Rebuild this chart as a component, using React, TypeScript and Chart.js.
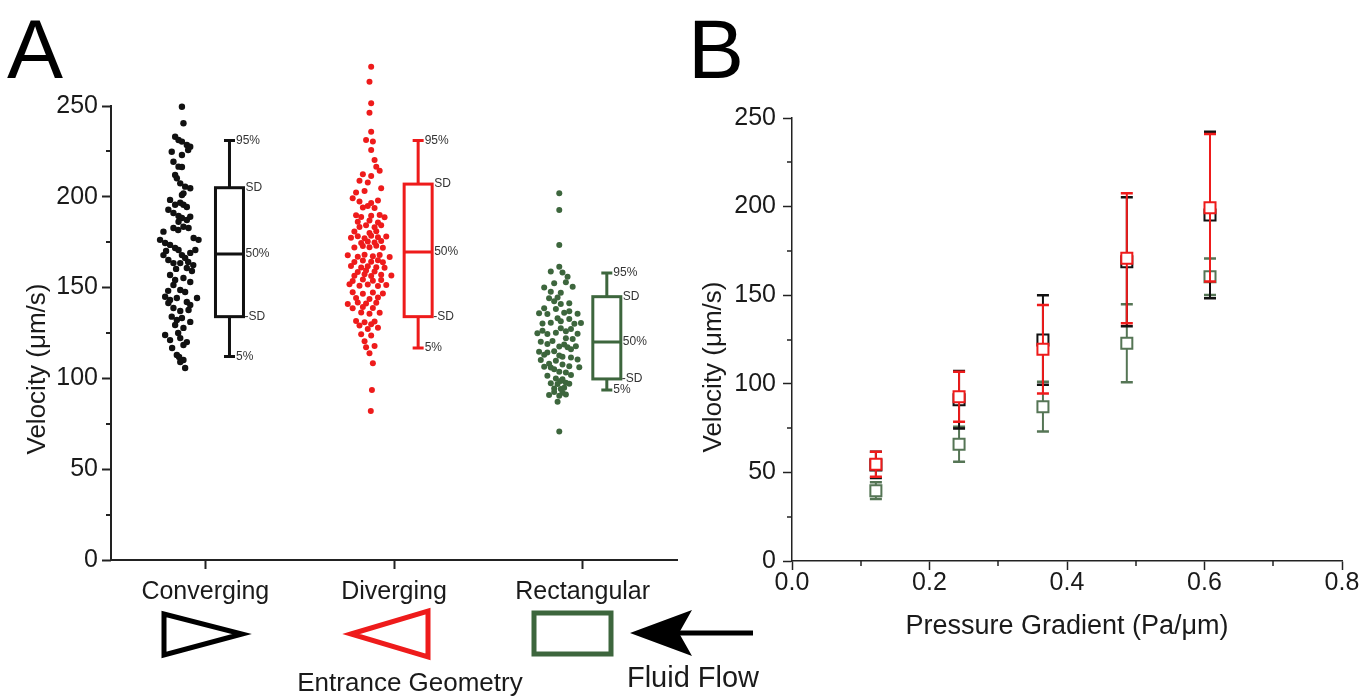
import React, { useEffect, useRef } from "react";
import { Chart, registerables } from "chart.js";

Chart.register(...registerables);

// ---------------- DATA ----------------
const CATEGORIES = ["Converging", "Diverging", "Rectangular"];
const BOX_LABELS = ["95%", "SD", "50%", "-SD", "5%"];

// box statistics per category (Converging, Diverging, Rectangular)
const BOX_P95 = [231, 231, 158];
const BOX_PSD = [205, 207, 145];
const BOX_MED = [168.5, 169.6, 120];
const BOX_MSD = [134, 134, 99.7];
const BOX_P5 = [112, 116.7, 93.6];

// individual velocities [category position (jittered), velocity µm/s]
const CONVERGING_POINTS: [number, number][] = [
  [0.876, 249.6], [0.884, 240.5], [0.84, 233.1], [0.858, 231.3], [0.876, 230.4], [0.902, 228.5],
  [0.92, 227.6], [0.909, 225.8], [0.822, 224.8], [0.876, 223.0], [0.831, 219.3], [0.858, 216.6],
  [0.876, 216.4], [0.84, 212.0], [0.849, 210.2], [0.867, 207.4], [0.893, 205.6], [0.92, 204.7],
  [0.884, 201.9], [0.876, 201.0], [0.813, 198.3], [0.84, 195.6], [0.867, 196.7], [0.884, 195.6],
  [0.902, 194.4], [0.804, 192.9], [0.831, 191.1], [0.858, 189.4], [0.876, 188.3], [0.902, 187.2],
  [0.92, 189.0], [0.858, 186.3], [0.884, 183.5], [0.911, 182.8], [0.778, 180.8], [0.831, 182.8],
  [0.76, 176.3], [0.938, 177.3], [0.964, 176.3], [0.787, 174.6], [0.813, 173.5], [0.84, 171.8],
  [0.858, 170.7], [0.876, 167.9], [0.893, 166.3], [0.92, 169.1], [0.947, 170.7], [0.778, 167.9],
  [0.804, 165.2], [0.831, 163.5], [0.867, 163.5], [0.902, 160.8], [0.929, 159.1], [0.813, 156.9],
  [0.84, 154.2], [0.884, 155.3], [0.92, 153.1], [0.831, 151.4], [0.867, 148.7], [0.893, 147.6],
  [0.787, 145.0], [0.813, 143.2], [0.849, 144.3], [0.902, 142.1], [0.956, 144.3], [0.804, 141.5],
  [0.831, 138.8], [0.867, 137.1], [0.911, 137.7], [0.822, 134.0], [0.849, 132.2], [0.876, 133.3],
  [0.92, 131.1], [0.84, 129.4], [0.884, 127.8], [0.787, 123.9], [0.813, 121.1], [0.867, 122.2],
  [0.902, 120.0], [0.884, 118.4], [0.849, 112.9], [0.867, 109.0], [0.884, 110.1], [0.893, 105.7],
  [0.792, 170.2], [0.909, 164.1], [0.845, 160.3], [0.936, 162.4], [0.856, 181.7], [0.803, 148.2],
  [0.92, 140.4], [0.856, 125.0], [0.824, 116.7], [0.861, 111.8],
];

const DIVERGING_POINTS: [number, number][] = [
  [1.879, 271.6], [1.87, 263.4], [1.879, 251.5], [1.87, 246.3], [1.879, 235.8], [1.852, 231.3],
  [1.888, 230.5], [1.879, 225.8], [1.897, 220.3], [1.906, 216.6], [1.924, 214.3], [1.835, 212.4],
  [1.879, 211.5], [1.817, 208.8], [1.861, 207.9], [1.932, 204.7], [1.844, 203.2], [1.799, 202.3],
  [1.781, 199.2], [1.817, 197.4], [1.879, 196.6], [1.915, 197.9], [1.835, 194.1], [1.861, 194.9],
  [1.897, 193.8], [1.799, 189.9], [1.826, 188.9], [1.879, 189.6], [1.924, 190.0], [1.95, 188.7],
  [1.808, 186.3], [1.87, 186.9], [1.915, 185.8], [1.817, 183.4], [1.852, 184.3], [1.897, 183.2],
  [1.932, 184.4], [1.79, 180.9], [1.87, 180.1], [1.906, 181.0], [1.772, 177.5], [1.808, 178.3],
  [1.844, 177.2], [1.879, 178.6], [1.915, 177.7], [1.959, 178.2], [1.826, 174.6], [1.861, 175.4],
  [1.897, 174.8], [1.932, 175.6], [1.79, 172.1], [1.835, 172.9], [1.87, 172.2], [1.906, 173.0],
  [1.941, 171.9], [1.755, 167.8], [1.808, 167.0], [1.844, 168.1], [1.888, 167.2], [1.924, 167.9],
  [1.977, 166.8], [1.79, 164.1], [1.835, 164.9], [1.879, 164.2], [1.915, 165.0], [1.941, 163.9],
  [1.772, 161.9], [1.826, 161.1], [1.861, 161.8], [1.906, 161.2], [1.95, 160.9], [1.808, 158.6],
  [1.852, 159.4], [1.897, 158.8], [1.79, 156.5], [1.844, 157.3], [1.879, 156.4], [1.932, 157.1],
  [1.986, 156.6], [1.781, 153.6], [1.835, 154.4], [1.888, 153.8], [1.932, 154.2], [1.764, 151.8],
  [1.817, 151.0], [1.861, 151.7], [1.915, 150.9], [1.959, 151.5], [1.781, 147.4], [1.835, 146.6],
  [1.888, 147.3], [1.941, 146.8], [1.799, 144.3], [1.87, 143.7], [1.915, 144.5], [1.755, 141.0],
  [1.808, 141.8], [1.852, 141.2], [1.906, 141.6], [1.781, 138.6], [1.835, 139.3], [1.888, 138.7],
  [1.826, 136.3], [1.87, 135.6], [1.924, 136.2], [1.799, 131.6], [1.844, 130.9], [1.897, 131.4],
  [1.817, 129.1], [1.879, 129.8], [1.861, 127.2], [1.915, 127.9], [1.826, 124.3], [1.879, 123.6],
  [1.844, 120.5], [1.852, 117.1], [1.897, 117.8], [1.87, 113.8], [1.888, 108.3], [1.883, 93.6],
  [1.877, 82.0],
];

const RECTANGULAR_POINTS: [number, number][] = [
  [2.876, 201.9], [2.876, 192.7], [2.876, 173.5], [2.876, 161.5], [2.831, 158.8], [2.893, 158.3],
  [2.92, 156.0], [2.849, 152.4], [2.911, 152.9], [2.796, 150.0], [2.947, 150.5], [2.831, 147.7],
  [2.884, 147.2], [2.822, 144.1], [2.867, 144.6], [2.849, 142.5], [2.884, 141.0], [2.929, 141.4],
  [2.796, 138.6], [2.858, 138.2], [2.769, 135.9], [2.813, 135.5], [2.902, 136.2], [2.973, 135.6],
  [2.929, 137.0], [2.867, 133.1], [2.929, 132.7], [2.787, 130.3], [2.831, 130.7], [2.956, 130.1],
  [2.991, 130.5], [2.884, 131.5], [2.884, 127.6], [2.938, 127.2], [2.911, 126.0], [2.787, 126.2],
  [2.76, 124.8], [2.813, 124.4], [2.858, 125.1], [2.973, 124.6], [2.911, 122.1], [2.947, 121.7],
  [2.778, 120.2], [2.84, 120.6], [2.813, 119.0], [2.902, 118.6], [2.876, 117.5], [2.92, 117.1],
  [2.964, 117.7], [2.938, 116.0], [2.769, 114.7], [2.813, 114.3], [2.849, 115.0], [2.796, 113.0],
  [2.876, 112.6], [2.893, 111.9], [2.938, 111.5], [2.778, 110.1], [2.858, 109.7], [2.973, 110.4],
  [2.822, 108.0], [2.893, 107.6], [2.796, 106.4], [2.831, 106.0], [2.929, 106.7], [2.982, 106.2],
  [2.849, 105.0], [2.876, 103.7], [2.911, 103.3], [2.813, 101.5], [2.938, 101.9], [2.858, 100.0],
  [2.893, 99.6], [2.884, 98.5], [2.831, 97.3], [2.867, 96.9], [2.911, 97.6], [2.929, 97.1],
  [2.849, 94.5], [2.884, 94.1], [2.902, 94.8], [2.849, 92.5], [2.893, 92.1], [2.822, 90.9],
  [2.876, 90.5], [2.911, 91.2], [2.867, 87.2], [2.876, 70.7],
];

// Panel B: pressure gradient (Pa/µm) vs mean velocity ± SD (µm/s)
const PRESSURE = [0.122, 0.243, 0.365, 0.487, 0.608];
const CONV_MEAN = [54.2, 91, 124.7, 168.9, 195.3];
const CONV_SD = [7.4, 16.2, 25.3, 36.4, 47];
const DIV_MEAN = [54.6, 92.7, 119.5, 170.8, 199.4];
const DIV_SD = [7.1, 14.1, 25, 36.7, 41.6];
const RECT_MEAN = [39.7, 65.9, 87.1, 122.9, 160.4];
const RECT_SD = [4.7, 9.9, 14, 22, 10.3];

// ---------------- STYLE ----------------
const FONT = "Arial, 'Liberation Sans', Helvetica, sans-serif";
const AXIS = "#222222";
const TEXT = "#1a1a1a";
const BLACK = "#111111";
const RED = "#ee1b1b";
const GREEN = "#3d663d";
const B_GREEN = "#557555";
const A_COLORS = [BLACK, RED, GREEN];
const A_Y_TOP = 250;

function rotatedTitle(ctx: CanvasRenderingContext2D, text: string, x: number, y: number, size: number) {
  ctx.save();
  ctx.translate(x, y);
  ctx.rotate(-Math.PI / 2);
  ctx.font = `${size}px ${FONT}`;
  ctx.fillStyle = TEXT;
  ctx.textAlign = "center";
  ctx.textBaseline = "middle";
  ctx.fillText(text, 0, 0);
  ctx.restore();
}

const panelAPlugin = {
  id: "panelA",
  afterDraw(chart: any) {
    const { ctx, chartArea, scales } = chart;
    const x = scales.x;
    const y = scales.y;
    ctx.save();
    // y axis line 0..250
    ctx.strokeStyle = AXIS;
    ctx.lineWidth = 2;
    ctx.beginPath();
    ctx.moveTo(chartArea.left, y.getPixelForValue(A_Y_TOP) - 1);
    ctx.lineTo(chartArea.left, chartArea.bottom);
    ctx.stroke();
    // minor ticks
    for (let v = 25; v < A_Y_TOP; v += 50) {
      const py = Math.round(y.getPixelForValue(v));
      ctx.beginPath();
      ctx.moveTo(chartArea.left, py);
      ctx.lineTo(chartArea.left - 5, py);
      ctx.stroke();
    }
    // box plots
    const half = 14;
    const cap = 5.5;
    for (let i = 0; i < CATEGORIES.length; i++) {
      const cx = x.getPixelForValue(i + 1 + 0.128);
      const yp95 = y.getPixelForValue(BOX_P95[i]);
      const ypsd = y.getPixelForValue(BOX_PSD[i]);
      const ymed = y.getPixelForValue(BOX_MED[i]);
      const ymsd = y.getPixelForValue(BOX_MSD[i]);
      const yp5 = y.getPixelForValue(BOX_P5[i]);
      ctx.strokeStyle = A_COLORS[i];
      ctx.lineWidth = 3;
      ctx.strokeRect(cx - half, ypsd, half * 2, ymsd - ypsd);
      ctx.beginPath();
      ctx.moveTo(cx - half, ymed);
      ctx.lineTo(cx + half, ymed);
      ctx.moveTo(cx, ypsd);
      ctx.lineTo(cx, yp95);
      ctx.moveTo(cx - cap, yp95);
      ctx.lineTo(cx + cap, yp95);
      ctx.moveTo(cx, ymsd);
      ctx.lineTo(cx, yp5);
      ctx.moveTo(cx - cap, yp5);
      ctx.lineTo(cx + cap, yp5);
      ctx.stroke();
      ctx.fillStyle = "#333333";
      ctx.font = `12px ${FONT}`;
      ctx.textAlign = "left";
      ctx.textBaseline = "middle";
      ctx.fillText(BOX_LABELS[0], cx + cap + 1, yp95);
      ctx.fillText(BOX_LABELS[1], cx + half + 2, ypsd);
      ctx.fillText(BOX_LABELS[2], cx + half + 2, ymed);
      ctx.fillText(BOX_LABELS[3], cx + half + 1, ymsd);
      ctx.fillText(BOX_LABELS[4], cx + cap + 1, yp5);
    }
    ctx.restore();
    rotatedTitle(ctx, "Velocity (\u03bcm/s)", 38, 369, 26);
  },
};

const B_SERIES = [
  { label: "Diverging", mean: DIV_MEAN, sd: DIV_SD, color: RED },
  { label: "Converging", mean: CONV_MEAN, sd: CONV_SD, color: BLACK },
  { label: "Rectangular", mean: RECT_MEAN, sd: RECT_SD, color: B_GREEN },
];

const panelBPlugin = {
  id: "panelB",
  beforeDatasetDraw(chart: any, args: any) {
    const s = B_SERIES[args.index];
    const { ctx, scales } = chart;
    const x = scales.x;
    const y = scales.y;
    ctx.save();
    ctx.strokeStyle = s.color;
    PRESSURE.forEach((p, i) => {
      const px = x.getPixelForValue(p);
      const top = y.getPixelForValue(s.mean[i] + s.sd[i]);
      const bot = y.getPixelForValue(s.mean[i] - s.sd[i]);
      ctx.lineWidth = 2;
      ctx.beginPath();
      ctx.moveTo(px, top);
      ctx.lineTo(px, bot);
      ctx.stroke();
      ctx.lineWidth = 2.5;
      ctx.beginPath();
      ctx.moveTo(px - 6, top);
      ctx.lineTo(px + 6, top);
      ctx.moveTo(px - 6, bot);
      ctx.lineTo(px + 6, bot);
      ctx.stroke();
    });
    ctx.restore();
  },
  afterDraw(chart: any) {
    const { ctx, chartArea, scales } = chart;
    const x = scales.x;
    const y = scales.y;
    ctx.save();
    ctx.strokeStyle = AXIS;
    ctx.lineWidth = 1.5;
    for (let v = 25; v < 250; v += 50) {
      const py = Math.round(y.getPixelForValue(v));
      ctx.beginPath();
      ctx.moveTo(chartArea.left, py);
      ctx.lineTo(chartArea.left - 5, py);
      ctx.stroke();
    }
    for (let v = 0.1; v < 0.8; v += 0.2) {
      const px = Math.round(x.getPixelForValue(v));
      ctx.beginPath();
      ctx.moveTo(px, chartArea.bottom);
      ctx.lineTo(px, chartArea.bottom + 5);
      ctx.stroke();
    }
    ctx.restore();
    rotatedTitle(ctx, "Velocity (\u03bcm/s)", 24, 367, 26);
  },
};

function PanelA() {
  const ref = useRef<HTMLCanvasElement | null>(null);
  useEffect(() => {
    if (!ref.current) return;
    const sets = [CONVERGING_POINTS, DIVERGING_POINTS, RECTANGULAR_POINTS];
    const chart = new Chart(ref.current, {
      type: "scatter",
      data: {
        datasets: sets.map((pts, i) => ({
          label: CATEGORIES[i],
          data: pts.map(([px, py]) => ({ x: px, y: py })),
          pointRadius: i === 0 ? 3.2 : 3,
          pointBackgroundColor: A_COLORS[i],
          pointBorderWidth: 0,
          pointBorderColor: A_COLORS[i],
          showLine: false,
        })),
      },
      options: {
        animation: false,
        responsive: false,
        devicePixelRatio: 1,
        layout: { padding: { top: 60.6, right: 23, left: 0, bottom: 0 } },
        plugins: { legend: { display: false }, tooltip: { enabled: false } },
        scales: {
          x: {
            type: "linear",
            min: 0.5,
            max: 3.5,
            afterBuildTicks: (scale: any) => {
              scale.ticks = CATEGORIES.map((_, i) => ({ value: i + 1 }));
            },
            afterFit: (scale: any) => {
              scale.height = 140;
            },
            grid: { drawOnChartArea: false, drawTicks: true, tickLength: 9, tickWidth: 2, tickColor: AXIS },
            border: { display: true, color: AXIS, width: 2 },
            ticks: {
              padding: 11,
              color: TEXT,
              font: { family: FONT, size: 25, lineHeight: 1 },
              maxRotation: 0,
              callback: (v: any) => CATEGORIES[Math.round(Number(v)) - 1] ?? "",
            },
          },
          y: {
            type: "linear",
            min: 0,
            max: 275,
            afterFit: (scale: any) => {
              scale.width = 111;
            },
            grid: {
              drawOnChartArea: false,
              drawTicks: true,
              tickLength: 9,
              tickWidth: 2,
              tickColor: (c: any) => (c.tick && c.tick.value > A_Y_TOP ? "transparent" : AXIS),
            },
            border: { display: false },
            ticks: {
              stepSize: 50,
              padding: 4,
              color: TEXT,
              font: { family: FONT, size: 25, lineHeight: 1 },
              callback: (v: any) => (Number(v) > A_Y_TOP ? "" : String(v)),
            },
          },
        },
      },
      plugins: [panelAPlugin],
    } as any);
    return () => chart.destroy();
  }, []);
  return (
    <canvas
      ref={ref}
      width={700}
      height={700}
      style={{ position: "absolute", left: 0, top: 0, width: 700, height: 700 }}
    />
  );
}

function PanelB() {
  const ref = useRef<HTMLCanvasElement | null>(null);
  useEffect(() => {
    if (!ref.current) return;
    const chart = new Chart(ref.current, {
      type: "scatter",
      data: {
        datasets: B_SERIES.map((s) => ({
          label: s.label,
          data: PRESSURE.map((p, i) => ({ x: p, y: s.mean[i] })),
          pointStyle: "rect",
          pointRadius: 7.8,
          pointBorderWidth: 2,
          pointBorderColor: s.color,
          pointBackgroundColor: "#ffffff",
          showLine: false,
        })),
      },
      options: {
        animation: false,
        responsive: false,
        devicePixelRatio: 1,
        layout: { padding: { top: 118, right: 29, left: 0, bottom: 0 } },
        plugins: { legend: { display: false }, tooltip: { enabled: false } },
        scales: {
          x: {
            type: "linear",
            min: 0,
            max: 0.8,
            afterFit: (scale: any) => {
              scale.height = 139;
            },
            grid: { drawOnChartArea: false, drawTicks: true, tickLength: 9, tickWidth: 1.5, tickColor: AXIS },
            border: { display: true, color: AXIS, width: 1.5 },
            title: {
              display: true,
              text: "Pressure Gradient (Pa/\u03bcm)",
              color: TEXT,
              font: { family: FONT, size: 27 },
              padding: { top: 0, bottom: 57 },
            },
            ticks: {
              stepSize: 0.2,
              padding: 1,
              color: TEXT,
              maxRotation: 0,
              font: { family: FONT, size: 25, lineHeight: 1 },
              callback: (v: any) => Number(v).toFixed(1),
            },
          },
          y: {
            type: "linear",
            min: 0,
            max: 250,
            afterFit: (scale: any) => {
              scale.width = 102;
            },
            grid: { drawOnChartArea: false, drawTicks: true, tickLength: 9, tickWidth: 1.5, tickColor: AXIS },
            border: { display: true, color: AXIS, width: 1.5 },
            ticks: {
              stepSize: 50,
              padding: 7,
              color: TEXT,
              font: { family: FONT, size: 25, lineHeight: 1 },
            },
          },
        },
      },
      plugins: [panelBPlugin],
    } as any);
    return () => chart.destroy();
  }, []);
  return (
    <canvas
      ref={ref}
      width={681}
      height={700}
      style={{ position: "absolute", left: 690, top: 0, width: 681, height: 700 }}
    />
  );
}

function Decorations() {
  return (
    <svg
      width={1371}
      height={700}
      style={{ position: "absolute", left: 0, top: 0, pointerEvents: "none" }}
    >
      <text x={7} y={78} fontFamily={FONT} fontSize={84} fill="#000">A</text>
      <text x={688} y={78} fontFamily={FONT} fontSize={84} fill="#000">B</text>
      <polygon points="164,614 164,655 242,634" fill="none" stroke="#000" strokeWidth={5} strokeLinejoin="miter" />
      <polygon points="351,634 428,611 428,657" fill="none" stroke={RED} strokeWidth={5} strokeLinejoin="miter" />
      <rect x={534} y={613} width={77} height={41} fill="none" stroke={GREEN} strokeWidth={5} />
      <line x1={676} y1={633} x2={753} y2={633} stroke="#000" strokeWidth={5} />
      <polygon points="630,633 692,610 679,633 692,656" fill="#000" />
      <text x={410} y={691} textAnchor="middle" fontFamily={FONT} fontSize={26} fill={TEXT}>
        Entrance Geometry
      </text>
      <text x={693} y={687} textAnchor="middle" fontFamily={FONT} fontSize={29} fill={TEXT}>
        Fluid Flow
      </text>
    </svg>
  );
}

export default function App() {
  return (
    <div
      style={{
        position: "absolute",
        left: 0,
        top: 0,
        width: 1371,
        height: 700,
        background: "#ffffff",
        overflow: "hidden",
      }}
    >
      <PanelA />
      <PanelB />
      <Decorations />
    </div>
  );
}
